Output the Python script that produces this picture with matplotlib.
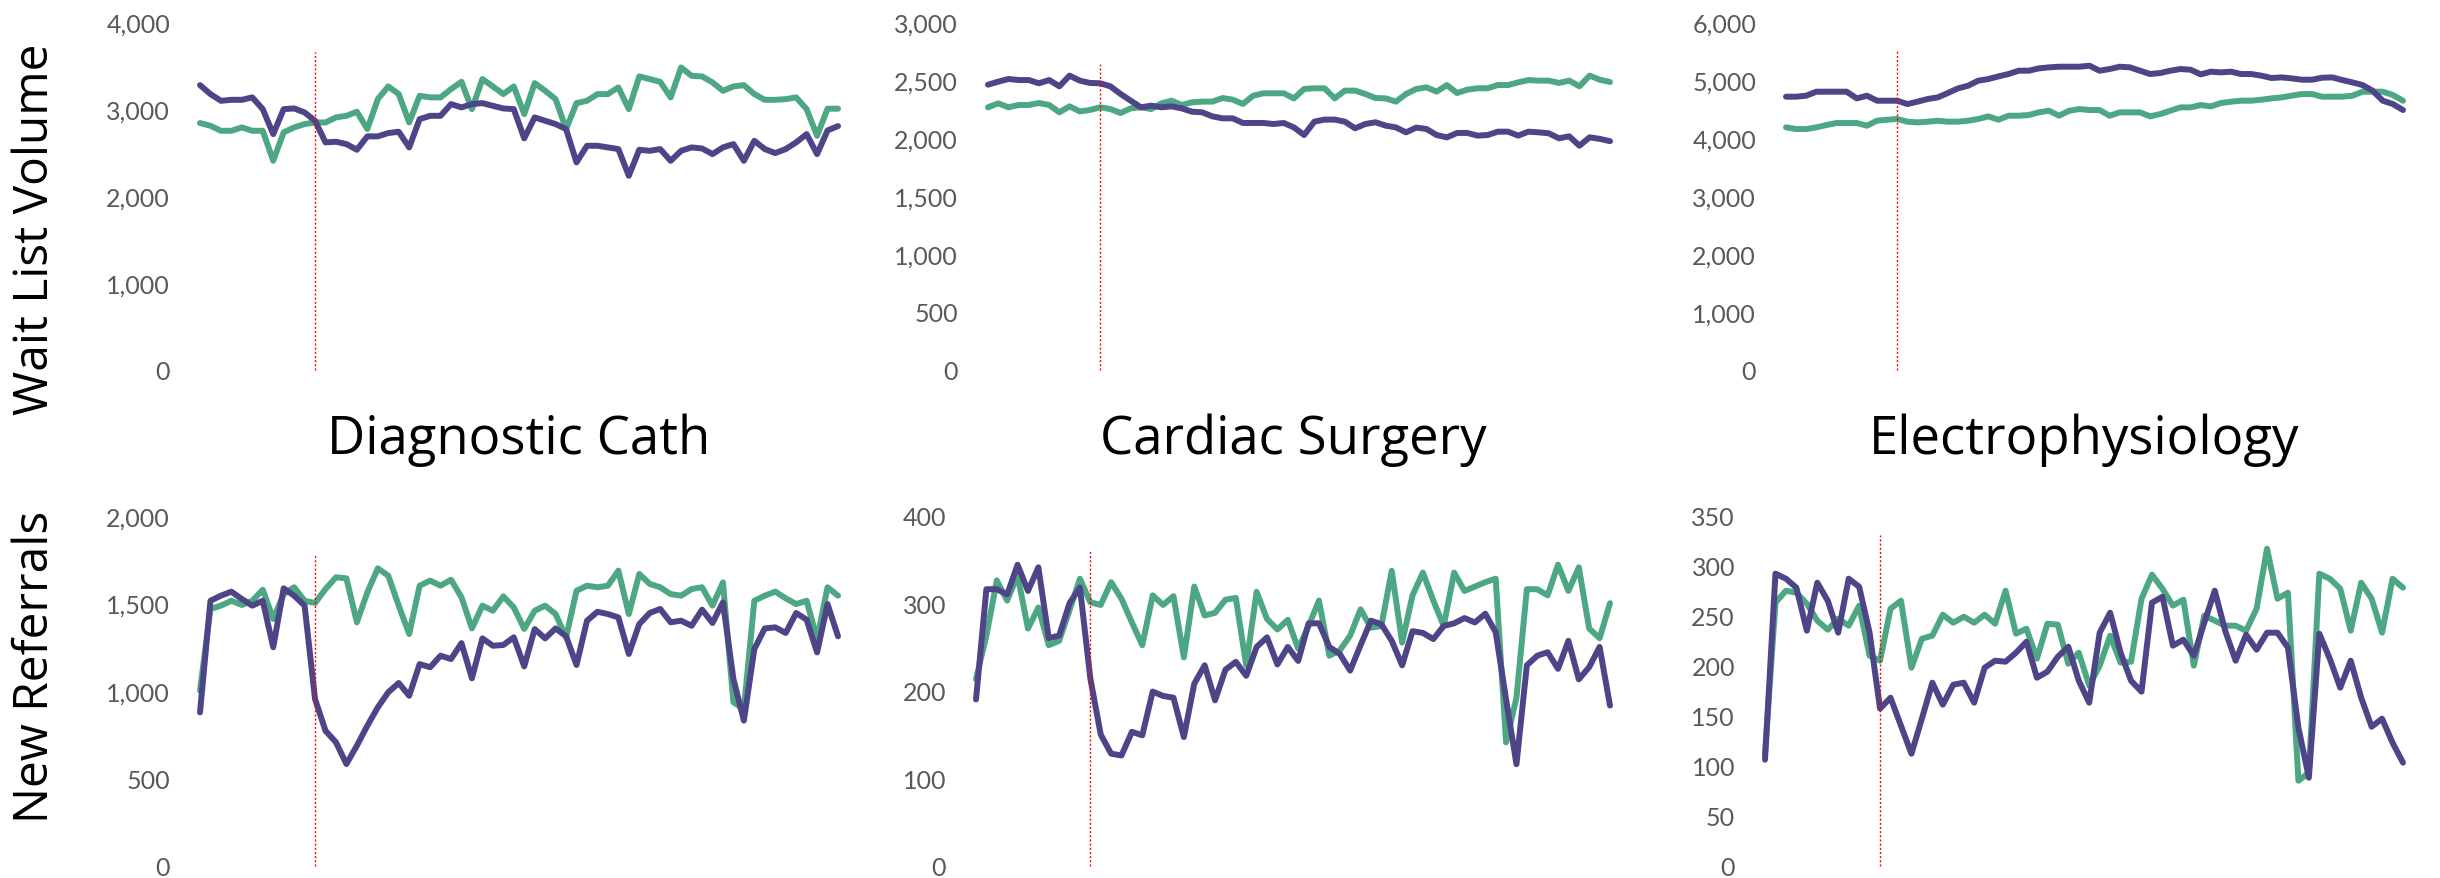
import matplotlib
matplotlib.use("Agg")
import matplotlib.pyplot as plt
from matplotlib.ticker import FuncFormatter, MultipleLocator

# ---------------- data ----------------
weeks = list(range(62))

# Wait List Volume
cath_wait_cur = [3271, 3168, 3091, 3102, 3102, 3130, 2995, 2708, 2995, 3003,
                 2957, 2861, 2613, 2620, 2593, 2528, 2682, 2682, 2720, 2735,
                 2555, 2880, 2918, 2918, 3053, 3015, 3053, 3064, 3033, 3003,
                 2995, 2659, 2900, 2861, 2823, 2766, 2383, 2574, 2574, 2555,
                 2536, 2229, 2528, 2516, 2536, 2401, 2516, 2555, 2543, 2478,
                 2555, 2593, 2401, 2631, 2536, 2490, 2536, 2613, 2708, 2478,
                 2750, 2800]
cath_wait_prev = [2835, 2804, 2746, 2746, 2785, 2746, 2746, 2401, 2728, 2785,
                  2823, 2842, 2842, 2900, 2918, 2965, 2766, 3110, 3256, 3168,
                  2842, 3148, 3130, 3130, 3225, 3309, 2995, 3340, 3256, 3168,
                  3256, 2938, 3294, 3206, 3110, 2766, 3064, 3091, 3168, 3168,
                  3245, 2995, 3371, 3340, 3309, 3130, 3474, 3378, 3371, 3302,
                  3206, 3256, 3271, 3168, 3102, 3102, 3110, 3130, 2995, 2689,
                  3000, 3000]
surg_wait_cur = [2457, 2483, 2506, 2497, 2497, 2469, 2497, 2443, 2535, 2492,
                 2472, 2469, 2443, 2377, 2319, 2262, 2276, 2262, 2270, 2253,
                 2224, 2219, 2184, 2167, 2167, 2127, 2127, 2127, 2118, 2127,
                 2089, 2023, 2138, 2156, 2156, 2138, 2081, 2118, 2133, 2104,
                 2089, 2046, 2087, 2075, 2023, 2003, 2041, 2041, 2018, 2023,
                 2052, 2052, 2018, 2052, 2046, 2038, 1995, 2012, 1931, 2003,
                 1990, 1970]
surg_wait_prev = [2262, 2296, 2262, 2282, 2282, 2299, 2282, 2219, 2270, 2227,
                  2239, 2262, 2247, 2213, 2253, 2262, 2247, 2296, 2319, 2282,
                  2305, 2311, 2311, 2342, 2328, 2291, 2362, 2383, 2383, 2383,
                  2339, 2420, 2426, 2426, 2339, 2406, 2406, 2377, 2342, 2339,
                  2311, 2377, 2420, 2434, 2397, 2454, 2385, 2414, 2426, 2426,
                  2454, 2454, 2477, 2497, 2492, 2492, 2472, 2492, 2443, 2535,
                  2500, 2480]
ep_wait_cur = [4707, 4707, 4724, 4793, 4793, 4793, 4793, 4678, 4724, 4638,
               4638, 4638, 4580, 4621, 4667, 4695, 4770, 4850, 4896, 4983,
               5011, 5057, 5098, 5155, 5155, 5195, 5213, 5224, 5224, 5224,
               5241, 5155, 5184, 5224, 5213, 5155, 5098, 5115, 5155, 5184,
               5172, 5092, 5138, 5126, 5138, 5098, 5098, 5069, 5029, 5040,
               5023, 5000, 5000, 5034, 5040, 4994, 4954, 4908, 4810, 4638,
               4580, 4477]
ep_wait_prev = [4178, 4149, 4149, 4178, 4218, 4253, 4253, 4253, 4207, 4293,
                4310, 4322, 4276, 4264, 4276, 4293, 4276, 4276, 4293, 4322,
                4368, 4310, 4379, 4379, 4391, 4437, 4465, 4379, 4465, 4494,
                4477, 4477, 4379, 4437, 4437, 4437, 4368, 4408, 4465, 4523,
                4523, 4563, 4540, 4598, 4621, 4638, 4638, 4655, 4678, 4695,
                4724, 4753, 4753, 4707, 4707, 4707, 4724, 4793, 4793, 4793,
                4736, 4638]

# New Referrals
cath_ref_cur = [876, 1514, 1543, 1566, 1524, 1486, 1514, 1248, 1585, 1543,
                1486, 952, 771, 705, 581, 686, 800, 905, 991, 1044,
                971, 1152, 1134, 1200, 1181, 1272, 1071, 1299, 1257, 1261,
                1305, 1139, 1352, 1299, 1356, 1311, 1147, 1400, 1451, 1438,
                1419, 1210, 1381, 1444, 1467, 1391, 1400, 1371, 1463, 1387,
                1505, 1067, 829, 1238, 1356, 1362, 1330, 1444, 1406, 1219,
                1495, 1311]
cath_ref_prev = [1000, 1467, 1486, 1514, 1490, 1514, 1577, 1410, 1552, 1591,
                 1514, 1501, 1581, 1648, 1642, 1391, 1562, 1699, 1657, 1486,
                 1324, 1600, 1629, 1600, 1634, 1534, 1356, 1486, 1457, 1539,
                 1476, 1353, 1457, 1486, 1438, 1305, 1571, 1600, 1591, 1600,
                 1686, 1438, 1667, 1610, 1591, 1552, 1543, 1581, 1591, 1486,
                 1619, 934, 895, 1514, 1543, 1566, 1528, 1495, 1514, 1295,
                 1591, 1543]
surg_ref_cur = [190, 316, 316, 310, 344, 314, 341, 260, 263, 300,
                318, 214, 150, 128, 126, 153, 149, 199, 194, 192,
                147, 208, 229, 189, 224, 233, 217, 250, 261, 230,
                250, 234, 277, 277, 250, 242, 223, 252, 280, 276,
                257, 229, 268, 266, 259, 274, 277, 283, 278, 288,
                267, 190, 116, 229, 240, 244, 225, 257, 213, 227,
                250, 183]
surg_ref_prev = [213, 263, 326, 303, 332, 271, 295, 252, 257, 292,
                 328, 301, 298, 324, 305, 278, 252, 309, 298, 308,
                 238, 319, 286, 289, 304, 306, 229, 313, 282, 270,
                 281, 248, 274, 303, 240, 246, 263, 293, 272, 274,
                 337, 255, 309, 335, 303, 274, 335, 314, 319, 324,
                 328, 141, 192, 316, 316, 309, 344, 314, 341, 271,
                 260, 300]
ep_ref_cur = [106, 292, 287, 278, 235, 283, 265, 233, 287, 279,
              233, 157, 168, 140, 112, 147, 183, 161, 181, 183,
              163, 198, 205, 204, 213, 224, 188, 194, 209, 219,
              185, 163, 233, 253, 213, 185, 174, 263, 269, 220,
              226, 210, 243, 275, 235, 205, 231, 216, 233, 233,
              218, 138, 88, 232, 207, 178, 205, 168, 139, 147,
              123, 103]
ep_ref_prev = [112, 263, 275, 273, 262, 245, 236, 247, 240, 260,
               210, 205, 257, 265, 198, 227, 230, 251, 243, 249,
               243, 251, 242, 275, 232, 237, 207, 242, 241, 202,
               213, 180, 200, 230, 203, 204, 267, 291, 277, 260,
               266, 200, 250, 245, 240, 240, 235, 257, 317, 267,
               273, 85, 93, 292, 287, 277, 235, 283, 267, 233,
               287, 278]

titles = ["Diagnostic Cath", "Cardiac Surgery", "Electrophysiology"]
row_labels = ["Wait List Volume", "New Referrals"]
event_week = 11

y_max = [[4000, 3000, 6000], [2000, 400, 350]]
y_step = [[1000, 500, 1000], [500, 100, 50]]
vline_top = [[3647, 2635, 5490], [1775, 361, 331]]

cur = [[cath_wait_cur, surg_wait_cur, ep_wait_cur],
       [cath_ref_cur, surg_ref_cur, ep_ref_cur]]
prev = [[cath_wait_prev, surg_wait_prev, ep_wait_prev],
        [cath_ref_prev, surg_ref_prev, ep_ref_prev]]

# ---------------- style / layout ----------------
W, H = 2440, 879
PURPLE = "#4E4588"
GREEN = "#4EA783"
TICK_C = "#595959"

x_spans = [[(200, 838), (988, 1610), (1786, 2403)],
           [(200, 838), (976, 1610), (1765, 2403)]]
y_spans = [(22.7, 370.7), (516.7, 866.7)]

fig = plt.figure(figsize=(W / 100, H / 100), dpi=100)
fig.patch.set_facecolor("white")

fmt = FuncFormatter(lambda v, p: f"{int(round(v)):,}")

for r in range(2):
    for c in range(3):
        x0, x1 = x_spans[r][c]
        yt, yb = y_spans[r]
        ax = fig.add_axes([x0 / W, 1 - yb / H, (x1 - x0) / W, (yb - yt) / H])
        ax.set_facecolor("none")
        ax.plot(weeks, prev[r][c], color=GREEN, lw=4.3, solid_capstyle="round",
                solid_joinstyle="round", clip_on=False, zorder=2)
        ax.plot(weeks, cur[r][c], color=PURPLE, lw=4.3, solid_capstyle="round",
                solid_joinstyle="round", clip_on=False, zorder=3)
        ax.plot([event_week, event_week], [0, vline_top[r][c]], color="#FF0000",
                lw=1.0, linestyle=(0, (1.5, 1.5)), zorder=4, clip_on=False)
        ax.set_xlim(0, len(weeks) - 1)
        ax.set_ylim(0, y_max[r][c])
        ax.yaxis.set_major_locator(MultipleLocator(y_step[r][c]))
        ax.yaxis.set_major_formatter(fmt)
        ax.set_xticks([])
        ax.tick_params(axis="y", length=0, pad=21.6, labelsize=18,
                       labelcolor=TICK_C)
        for lab in ax.get_yticklabels():
            lab.set_fontfamily("Lato")
        for s in ax.spines.values():
            s.set_visible(False)

# column titles (between rows)
for c in range(3):
    x0, x1 = x_spans[1][c]
    fig.text(((x0 + x1) / 2) / W, 1 - 454 / H, titles[c], ha="center",
             va="baseline", fontsize=38, family="Open Sans", color="black")

# row labels
fig.text(12 / W, 1 - 229 / H, row_labels[0], rotation=90, ha="left",
         va="center", fontsize=34.5, family="Open Sans", color="black")
fig.text(12 / W, 1 - 667 / H, row_labels[1], rotation=90, ha="left",
         va="center", fontsize=34.5, family="Open Sans", color="black")

fig.savefig("out.png", dpi=100, facecolor="white")
